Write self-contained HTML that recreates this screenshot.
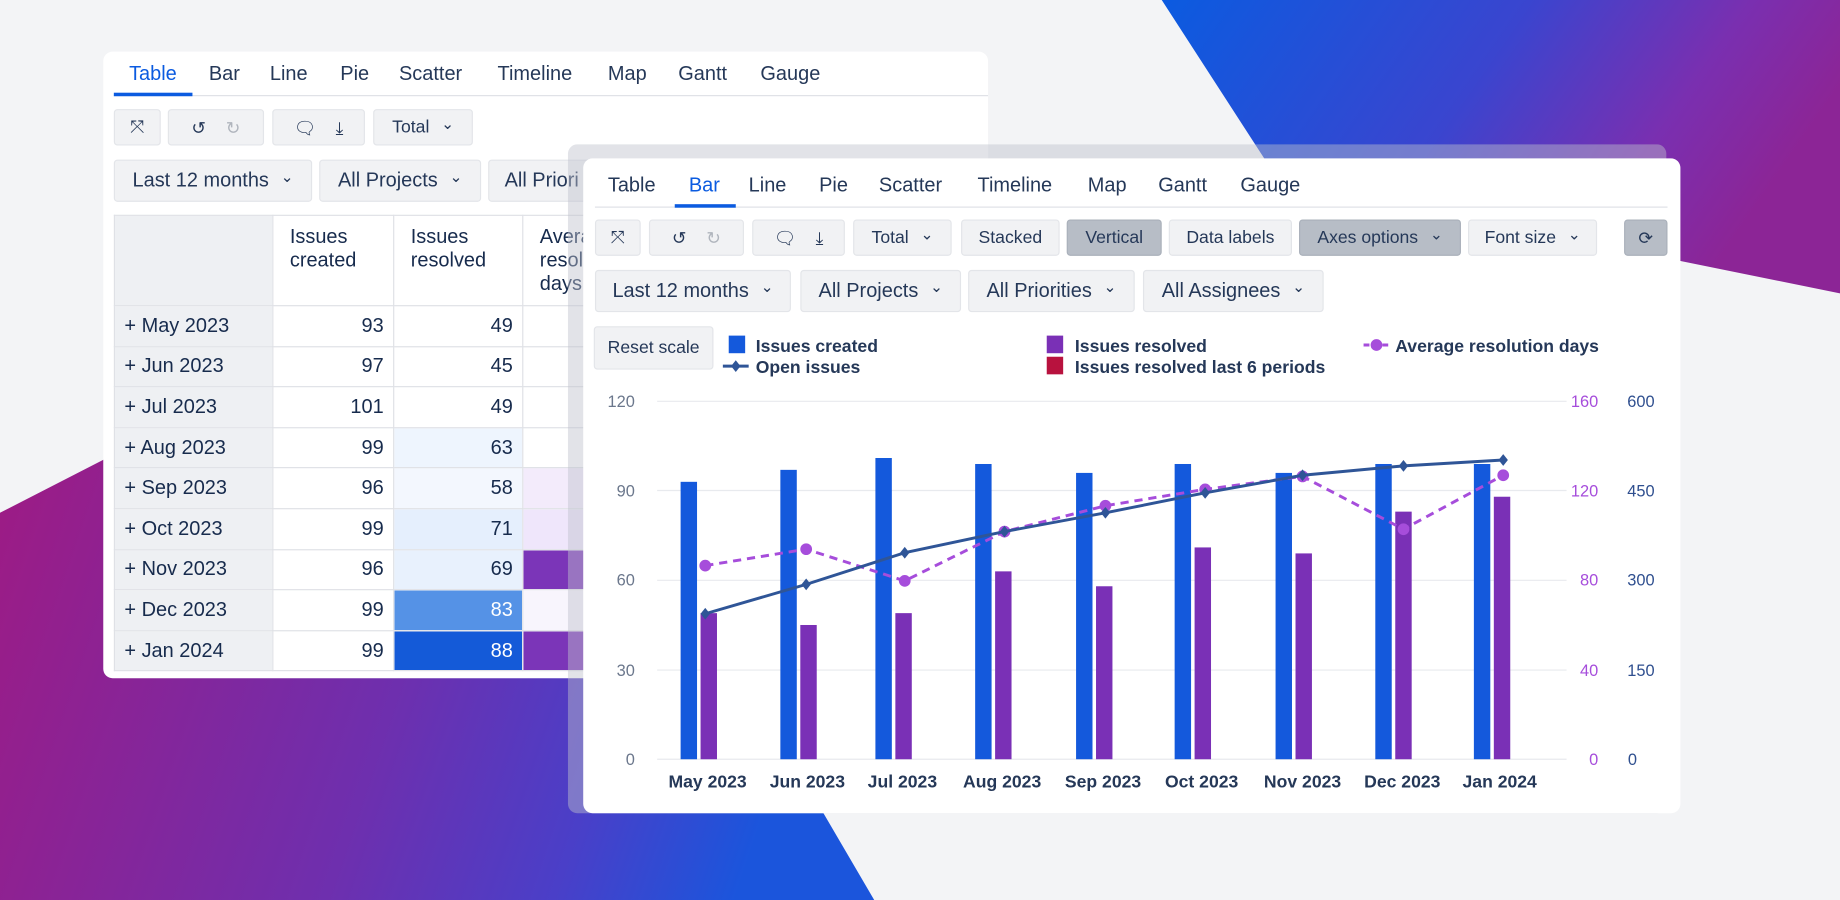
<!DOCTYPE html>
<html><head><meta charset="utf-8"><style>
*{box-sizing:border-box;margin:0;padding:0}
html,body{width:1840px;height:900px;overflow:hidden;background:#f3f4f6}
#w{position:absolute;left:0;top:0;width:1568px;height:767px;transform:scale(1.17347);transform-origin:0 0;font-family:"Liberation Sans",sans-serif;color:#253858}
.a{position:absolute}
.win{position:absolute;background:#fff;border-radius:8px}
.tab{position:absolute;font-size:17px;color:#253858}
.btn{position:absolute;background:#f1f2f4;border:1px solid #e3e5e9;border-radius:3px;font-size:15px;display:flex;align-items:center;justify-content:center;color:#253858}
.g{background:#b7bdc6;border-color:#a9b0ba}
.dd::after{content:"⌄";font-size:13px;margin-left:10px;position:relative;top:-3px}
.f{font-size:17px}
table{table-layout:fixed}
td{border:1px solid #dfe1e6;font-size:17px;height:34.6px;padding:0 8px;color:#172b4d;white-space:nowrap;overflow:hidden}
</style></head><body><div id="w">
<svg class="a" style="left:0;top:0" width="1568" height="767">
<defs><linearGradient id="g1" x1="0" y1="0" x2="1" y2="0.3"><stop offset="0" stop-color="#0b5be0"/><stop offset="0.5" stop-color="#3a45cf"/><stop offset="0.8" stop-color="#7a2fb0"/><stop offset="1" stop-color="#8c2596"/></linearGradient>
<linearGradient id="g2" x1="0" y1="0" x2="1" y2="0.2"><stop offset="0" stop-color="#a01a82"/><stop offset="0.55" stop-color="#6e2fae"/><stop offset="0.8" stop-color="#4a3fc8"/><stop offset="1" stop-color="#1b55dc"/></linearGradient></defs>
<polygon points="990,0 1568,0 1568,250 1430,222 1100,170" fill="url(#g1)"/>
<polygon points="0,437 150,360 520,330 700,690 745,767 0,767" fill="url(#g2)"/>
</svg>
<div class="win" style="left:88px;top:44px;width:754px;height:534px"></div>
<div class="tab" style="left:110px;top:53px;color:#0b5be0">Table</div><div class="tab" style="left:178px;top:53px">Bar</div><div class="tab" style="left:230px;top:53px">Line</div><div class="tab" style="left:290px;top:53px">Pie</div><div class="tab" style="left:340px;top:53px">Scatter</div><div class="tab" style="left:424px;top:53px">Timeline</div><div class="tab" style="left:518px;top:53px">Map</div><div class="tab" style="left:578px;top:53px">Gantt</div><div class="tab" style="left:648px;top:53px">Gauge</div>
<div class="a" style="left:97px;top:81px;width:745px;height:1px;background:#dfe1e6"></div><div class="a" style="left:97px;top:79px;width:67px;height:3px;background:#0b5be0"></div>
<div class="btn" style="left:97px;top:93px;width:40px;height:31px">⤧</div><div class="btn" style="left:143px;top:93px;width:82px;height:31px">↺ &nbsp;&nbsp;&nbsp; <span style="color:#b0b5bd">↻</span></div><div class="btn" style="left:232px;top:93px;width:79px;height:31px">🗨 &nbsp;&nbsp; ⤓</div><div class="btn dd" style="left:318px;top:93px;width:85px;height:31px">Total</div>
<div class="btn dd f" style="left:97px;top:136px;width:169px;height:36px">Last 12 months</div><div class="btn dd f" style="left:272px;top:136px;width:138px;height:36px">All Projects</div><div class="btn f" style="left:416px;top:136px;width:100px;height:36px;justify-content:flex-start;padding-left:13px">All Priori</div>
<table class="a" style="left:97px;top:183px;border-collapse:collapse;width:410px">
<colgroup><col style="width:135px"><col style="width:103px"><col style="width:110px"><col style="width:62px"></colgroup>
<tr style="height:76px"><td style="background:#eef0f3"></td><td style="vertical-align:top;padding:8px 14px">Issues<br>created</td><td style="vertical-align:top;padding:8px 14px">Issues<br>resolved</td><td style="vertical-align:top;padding:8px 14px">Average<br>resolution<br>days</td></tr>
<tr><td style="background:#eef0f3">+ May 2023</td><td align="right">93</td><td align="right">49</td><td></td></tr>
<tr><td style="background:#eef0f3">+ Jun 2023</td><td align="right">97</td><td align="right">45</td><td></td></tr>
<tr><td style="background:#eef0f3">+ Jul 2023</td><td align="right">101</td><td align="right">49</td><td></td></tr>
<tr><td style="background:#eef0f3">+ Aug 2023</td><td align="right">99</td><td align="right" style="background:#eef5fe">63</td><td></td></tr>
<tr><td style="background:#eef0f3">+ Sep 2023</td><td align="right">96</td><td align="right" style="background:#f3f7fe">58</td><td style="background:#f3ebfb"></td></tr>
<tr><td style="background:#eef0f3">+ Oct 2023</td><td align="right">99</td><td align="right" style="background:#e5effd">71</td><td style="background:#efe6fb"></td></tr>
<tr><td style="background:#eef0f3">+ Nov 2023</td><td align="right">96</td><td align="right" style="background:#e8f1fd">69</td><td style="background:#7b35b8"></td></tr>
<tr><td style="background:#eef0f3">+ Dec 2023</td><td align="right">99</td><td align="right" style="background:#5592e6;color:#fff">83</td><td style="background:#f8f5fd"></td></tr>
<tr><td style="background:#eef0f3">+ Jan 2024</td><td align="right">99</td><td align="right" style="background:#145ad8;color:#fff">88</td><td style="background:#7b35b8"></td></tr>
</table>
<div class="a" style="left:484px;top:123px;width:936px;height:570px;background:rgba(190,194,203,0.45);border-radius:8px"></div>
<div class="win" style="left:497px;top:135px;width:935px;height:558px"></div>
<div class="tab" style="left:518px;top:148px">Table</div><div class="tab" style="left:587px;top:148px;color:#0b5be0">Bar</div><div class="tab" style="left:638px;top:148px">Line</div><div class="tab" style="left:698px;top:148px">Pie</div><div class="tab" style="left:749px;top:148px">Scatter</div><div class="tab" style="left:833px;top:148px">Timeline</div><div class="tab" style="left:927px;top:148px">Map</div><div class="tab" style="left:987px;top:148px">Gantt</div><div class="tab" style="left:1057px;top:148px">Gauge</div>
<div class="a" style="left:507px;top:176px;width:914px;height:1px;background:#dfe1e6"></div><div class="a" style="left:575px;top:174px;width:52px;height:3px;background:#0b5be0"></div>
<div class="btn" style="left:507px;top:187px;width:39px;height:31px">⤧</div><div class="btn" style="left:553px;top:187px;width:81px;height:31px">↺ &nbsp;&nbsp;&nbsp; <span style="color:#b0b5bd">↻</span></div><div class="btn" style="left:641px;top:187px;width:79px;height:31px">🗨 &nbsp;&nbsp; ⤓</div><div class="btn dd" style="left:727px;top:187px;width:84px;height:31px">Total</div>
<div class="btn" style="left:819px;top:187px;width:84px;height:31px">Stacked</div><div class="btn g" style="left:909px;top:187px;width:81px;height:31px">Vertical</div><div class="btn" style="left:996px;top:187px;width:105px;height:31px">Data labels</div><div class="btn g dd" style="left:1107px;top:187px;width:138px;height:31px">Axes options</div><div class="btn dd" style="left:1251px;top:187px;width:110px;height:31px">Font size</div><div class="btn g" style="left:1384px;top:187px;width:37px;height:31px">⟳</div>
<div class="btn dd f" style="left:507px;top:230px;width:167px;height:36px">Last 12 months</div><div class="btn dd f" style="left:682px;top:230px;width:137px;height:36px">All Projects</div><div class="btn dd f" style="left:825px;top:230px;width:142px;height:36px">All Priorities</div><div class="btn dd f" style="left:974px;top:230px;width:154px;height:36px">All Assignees</div>
<div class="btn" style="left:506px;top:278px;width:102px;height:37px">Reset scale</div>
<svg class="a" style="left:0;top:0" width="1568" height="767" font-family="Liberation Sans, sans-serif">
<g font-size="15" font-weight="bold" fill="#253858">
<rect x="621" y="286" width="14" height="15" fill="#1459dc"/><text x="644" y="300">Issues created</text>
<line x1="616" y1="312" x2="638" y2="312" stroke="#2f5597" stroke-width="2.5"/><path d="M627 307 l4 5 -4 5 -4 -5z" fill="#2f5597"/><text x="644" y="318">Open issues</text>
<rect x="892" y="286" width="14" height="15" fill="#7a30b6"/><text x="916" y="300">Issues resolved</text>
<rect x="892" y="304" width="14" height="15" fill="#b8123e"/><text x="916" y="318">Issues resolved last 6 periods</text>
<line x1="1162" y1="294" x2="1184" y2="294" stroke="#a64ddb" stroke-width="2.5" stroke-dasharray="5,3"/><circle cx="1173" cy="294" r="5" fill="#a64ddb"/><text x="1189" y="300">Average resolution days</text>
</g>
<g stroke="#e8eaee" stroke-width="1"><line x1="560" y1="342" x2="1335" y2="342"/><line x1="560" y1="418" x2="1335" y2="418"/><line x1="560" y1="494.5" x2="1335" y2="494.5"/><line x1="560" y1="571" x2="1335" y2="571"/><line x1="560" y1="647" x2="1335" y2="647"/></g>
<g font-size="14" fill="#6b778c" text-anchor="end"><text x="541" y="347">120</text><text x="541" y="423">90</text><text x="541" y="499">60</text><text x="541" y="576">30</text><text x="541" y="652">0</text></g>
<g font-size="14" fill="#a64ddb" text-anchor="end"><text x="1362" y="347">160</text><text x="1362" y="423">120</text><text x="1362" y="499">80</text><text x="1362" y="576">40</text><text x="1362" y="652">0</text></g>
<g font-size="14" fill="#2f4f8f" text-anchor="end"><text x="1410" y="347">600</text><text x="1410" y="423">450</text><text x="1410" y="499">300</text><text x="1410" y="576">150</text><text x="1395" y="652">0</text></g>
<g fill="#1459dc"><rect x="580" y="410.6" width="14" height="236.4"/><rect x="665" y="400.4" width="14" height="246.6"/><rect x="746" y="390.3" width="14" height="256.7"/><rect x="831" y="395.4" width="14" height="251.6"/><rect x="917" y="403" width="14" height="244"/><rect x="1001" y="395.4" width="14" height="251.6"/><rect x="1087" y="403" width="14" height="244"/><rect x="1172" y="395.4" width="14" height="251.6"/><rect x="1256" y="395.4" width="14" height="251.6"/></g>
<g fill="#7a30b6"><rect x="597" y="522.5" width="14" height="124.5"/><rect x="682" y="532.6" width="14" height="114.4"/><rect x="763" y="522.5" width="14" height="124.5"/><rect x="848" y="486.9" width="14" height="160.1"/><rect x="934" y="499.6" width="14" height="147.4"/><rect x="1018" y="466.5" width="14" height="180.5"/><rect x="1104" y="471.6" width="14" height="175.4"/><rect x="1189" y="436" width="14" height="211"/><rect x="1273" y="423.3" width="14" height="223.7"/></g>
<polyline points="601,482 687,468 771,495 856,453 942,431 1027,417 1110,406 1196,451 1281,405" fill="none" stroke="#a64ddb" stroke-width="2.5" stroke-dasharray="7,5"/>
<g fill="#a64ddb"><circle cx="601" cy="482" r="5"/><circle cx="687" cy="468" r="5"/><circle cx="771" cy="495" r="5"/><circle cx="856" cy="453" r="5"/><circle cx="942" cy="431" r="5"/><circle cx="1027" cy="417" r="5"/><circle cx="1110" cy="406" r="5"/><circle cx="1196" cy="451" r="5"/><circle cx="1281" cy="405" r="5"/></g>
<polyline points="601,523 687,498 771,471 856,453 942,437 1027,420 1110,405 1196,397 1281,392" fill="none" stroke="#2f5597" stroke-width="2.5"/>
<g fill="#2f5597"><path d="M601 518l4 5-4 5-4-5z"/><path d="M687 493l4 5-4 5-4-5z"/><path d="M771 466l4 5-4 5-4-5z"/><path d="M856 448l4 5-4 5-4-5z"/><path d="M942 432l4 5-4 5-4-5z"/><path d="M1027 415l4 5-4 5-4-5z"/><path d="M1110 400l4 5-4 5-4-5z"/><path d="M1196 392l4 5-4 5-4-5z"/><path d="M1281 387l4 5-4 5-4-5z"/></g>
<g font-size="15" font-weight="bold" fill="#253858" text-anchor="middle"><text x="603" y="671">May 2023</text><text x="688" y="671">Jun 2023</text><text x="769" y="671">Jul 2023</text><text x="854" y="671">Aug 2023</text><text x="940" y="671">Sep 2023</text><text x="1024" y="671">Oct 2023</text><text x="1110" y="671">Nov 2023</text><text x="1195" y="671">Dec 2023</text><text x="1278" y="671">Jan 2024</text></g>
</svg>
</div></body></html>
